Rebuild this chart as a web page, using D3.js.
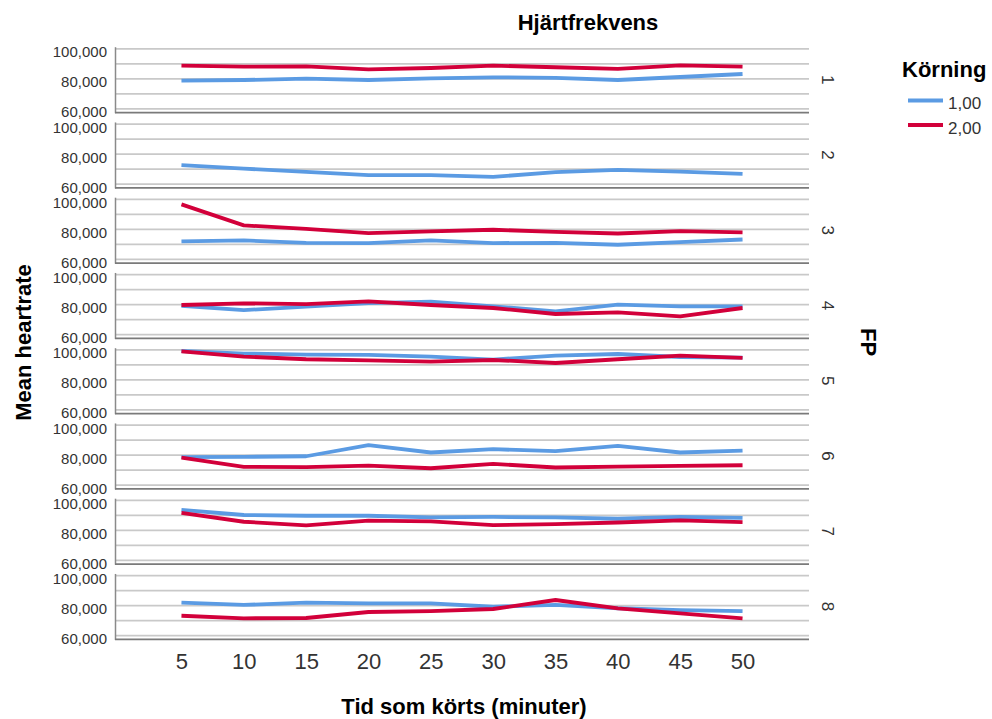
<!DOCTYPE html>
<html>
<head>
<meta charset="utf-8">
<script src="https://cdn.jsdelivr.net/npm/d3@7"></script>
<style>
  body { margin: 0; background: #fff; }
  text { font-family: "Liberation Sans", Arial, sans-serif; }
</style>
</head>
<body>
<div id="chart"></div>
<script>
// Data
var minutes = [5, 10, 15, 20, 25, 30, 35, 40, 45, 50];
var fpLabels = ["1", "2", "3", "4", "5", "6", "7", "8"];
var runLabels = ["1,00", "2,00"];
var yTicks = [60000, 80000, 100000];
var gridValues = [60000, 70000, 80000, 90000, 100000];

// Körning 1,00 (blue), one row per FP
var run1 = [
  [78900, 79300, 80200, 79300, 80400, 81100, 80700, 79300, 81300, 83300],
  [72700, 70400, 68200, 66000, 66000, 64900, 68000, 69500, 68400, 66900],
  [72000, 72700, 71100, 70900, 72700, 70900, 71100, 69800, 71600, 73300],
  [79300, 76400, 78700, 81100, 82000, 78900, 75600, 80000, 78900, 78900],
  [99300, 97600, 96900, 96700, 95600, 93600, 96200, 97300, 95300, 94900],
  [78700, 78900, 79300, 86700, 81800, 84000, 82700, 86200, 81800, 83100],
  [93700, 90300, 89800, 89800, 88700, 89000, 88700, 87800, 89100, 88400],
  [82000, 80500, 82000, 81600, 81600, 79300, 80500, 78300, 77100, 76400]
];

// Körning 2,00 (red), FP 2 has no values
var run2 = [
  [88900, 88200, 88400, 86400, 87300, 88900, 87800, 86700, 89100, 88200],
  null,
  [96700, 82700, 80400, 77600, 78700, 79800, 78400, 77300, 78900, 78000],
  [79800, 80900, 80400, 82200, 79800, 77800, 73800, 74900, 72200, 77800],
  [99100, 95600, 93800, 93100, 92200, 93300, 91300, 93800, 96200, 94700],
  [78400, 72200, 72000, 73100, 71300, 74200, 71800, 72400, 72900, 73300],
  [91700, 85800, 83400, 86500, 86000, 83600, 84200, 85300, 86700, 85600],
  [73300, 71600, 71800, 75800, 76400, 77800, 83800, 78200, 74900, 71600]
];

var runColors = ["#5b9be3", "#d2003a"];

var svgWidth = 992;
var svgHeight = 719;

// Panel geometry
var plotLeft = 115;
var plotRight = 809;
var firstTop = 46.7;
var panelStep = 75.25;
var panelHeight = 66;

var svg = d3.select("#chart")
  .append("svg")
  .attr("width", svgWidth)
  .attr("height", svgHeight);

var xScale = d3.scalePoint()
  .domain(minutes)
  .range([plotLeft, plotRight])
  .padding(1.066);

var yScale = d3.scaleLinear()
  .domain([57500, 101500])
  .range([panelHeight, 0]);

var line = d3.line()
  .x(function(d, i) { return xScale(minutes[i]); })
  .y(function(d) { return yScale(d); });

fpLabels.forEach(function(fp, p) {
  var g = svg.append("g")
    .attr("transform", `translate(0, ${firstTop + p * panelStep})`);

  // gridlines
  g.selectAll(".grid")
    .data(gridValues)
    .enter()
    .append("line")
    .attr("x1", plotLeft)
    .attr("x2", plotRight)
    .attr("y1", d => yScale(d))
    .attr("y2", d => yScale(d))
    .attr("stroke", "#c9c9c9")
    .attr("stroke-width", 1.7);

  // y axis
  var leftAxis = d3.axisLeft(yScale)
    .tickValues(yTicks)
    .tickFormat(d3.format(","))
    .tickSize(0)
    .tickPadding(8);

  var ya = g.append("g")
    .attr("transform", `translate(${plotLeft}, 0)`)
    .call(leftAxis);
  ya.select(".domain").attr("stroke", "#8a8a8a").attr("stroke-width", 1.5);
  ya.selectAll("text")
    .attr("font-size", "15px")
    .attr("dy", "0.52em")
    .attr("fill", "#333")
    .attr("font-family", "'Liberation Sans', Arial, sans-serif");

  // bottom line of panel
  g.append("line")
    .attr("x1", plotLeft)
    .attr("x2", plotRight)
    .attr("y1", panelHeight)
    .attr("y2", panelHeight)
    .attr("stroke", "#7a7a7a")
    .attr("stroke-width", 1.8);

  // series
  [run1[p], run2[p]].forEach(function(vals, r) {
    if (!vals) return;
    g.append("path")
      .datum(vals)
      .attr("d", line)
      .attr("fill", "none")
      .attr("stroke", runColors[r])
      .attr("stroke-width", 3.8)
      .attr("stroke-linejoin", "round");
  });

  // panel label on the right
  g.append("text")
    .attr("transform", `translate(822, ${panelHeight / 2}) rotate(90)`)
    .attr("text-anchor", "middle")
    .attr("font-size", "17px")
    .attr("fill", "#333")
    .text(fp);
});

// x axis ticks
var bottomAxis = d3.axisBottom(xScale).tickSize(0).tickPadding(0);
var xa = svg.append("g")
  .attr("transform", `translate(0, ${firstTop + 7 * panelStep + panelHeight + 13.5})`)
  .call(bottomAxis);
xa.select(".domain").remove();
xa.selectAll("text")
  .attr("font-size", "22px")
  .attr("fill", "#333")
  .attr("font-family", "'Liberation Sans', Arial, sans-serif");

// titles
svg.append("text")
  .attr("x", 588)
  .attr("y", 29.5)
  .attr("text-anchor", "middle")
  .attr("font-size", "22px")
  .attr("font-weight", "bold")
  .text("Hjärtfrekvens");

svg.append("text")
  .attr("x", 464)
  .attr("y", 714)
  .attr("text-anchor", "middle")
  .attr("font-size", "22px")
  .attr("font-weight", "bold")
  .text("Tid som körts (minuter)");

svg.append("text")
  .attr("transform", "translate(31, 342.5) rotate(-90)")
  .attr("text-anchor", "middle")
  .attr("font-size", "22px")
  .attr("font-weight", "bold")
  .text("Mean heartrate");

svg.append("text")
  .attr("transform", "translate(861, 342) rotate(90)")
  .attr("text-anchor", "middle")
  .attr("font-size", "22px")
  .attr("font-weight", "bold")
  .text("FP");

// legend
var legend = svg.append("g");
legend.append("text")
  .attr("x", 902)
  .attr("y", 77)
  .attr("font-size", "22px")
  .attr("font-weight", "bold")
  .text("Körning");

runLabels.forEach(function(lbl, i) {
  var y = 100.5 + i * 24.5;
  legend.append("line")
    .attr("x1", 908)
    .attr("x2", 943)
    .attr("y1", y)
    .attr("y2", y)
    .attr("stroke", runColors[i])
    .attr("stroke-width", 4);
  legend.append("text")
    .attr("x", 948)
    .attr("y", y + 8.5)
    .attr("font-size", "17px")
    .attr("fill", "#333")
    .text(lbl);
});
</script>
</body>
</html>
